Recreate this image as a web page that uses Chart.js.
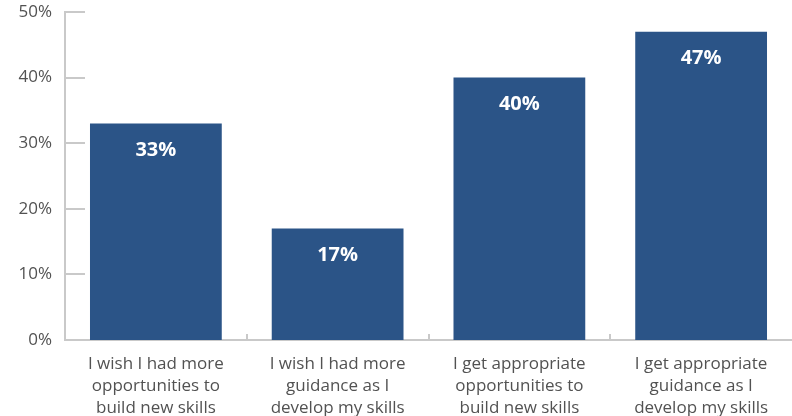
<!DOCTYPE html>
<html lang="en">
<head>
    <meta charset="UTF-8">
    <title>Skills Survey</title>
    <script src="https://cdn.jsdelivr.net/npm/chart.js"></script>
    <style>
        html, body { margin: 0; padding: 0; background: #fff; }
        .chart-box { position: relative; width: 792px; height: 416px; }
    </style>
</head>
<body>
    <div class="chart-box">
        <canvas id="skillsChart"></canvas>
    </div>

    <script>
        const categories = [
            ['I wish I had more', 'opportunities to', 'build new skills'],
            ['I wish I had more', 'guidance as I', 'develop my skills'],
            ['I get appropriate', 'opportunities to', 'build new skills'],
            ['I get appropriate', 'guidance as I', 'develop my skills']
        ];
        const responses = [33, 17, 40, 47];
        const yTicks = [0, 10, 20, 30, 40, 50];

        const barColor = '#2b5487';
        const axisColor = '#c9c9c9';
        const textColor = '#525252';
        const fontFamily = '"Open Sans", Lato, sans-serif';

        // white percentage labels just inside the top of each bar
        const valueLabels = {
            id: 'valueLabels',
            afterDatasetsDraw(chart) {
                const ctx = chart.ctx;
                const meta = chart.getDatasetMeta(0);
                ctx.save();
                ctx.fillStyle = '#ffffff';
                ctx.font = 'bold 20px ' + fontFamily;
                ctx.textAlign = 'center';
                ctx.textBaseline = 'middle';
                meta.data.forEach((bar, i) => {
                    ctx.fillText(responses[i] + '%', bar.x, bar.y + 27);
                });
                ctx.restore();
            }
        };

        // short tick marks pointing into the plot area
        const innerTicks = {
            id: 'innerTicks',
            afterDraw(chart) {
                const ctx = chart.ctx;
                const x = chart.scales.x;
                const y = chart.scales.y;
                const area = chart.chartArea;
                ctx.save();
                ctx.strokeStyle = axisColor;
                ctx.lineWidth = 2;
                ctx.beginPath();
                yTicks.forEach(v => {
                    if (v === 0) return;
                    const py = Math.round(y.getPixelForValue(v));
                    ctx.moveTo(area.left, py);
                    ctx.lineTo(area.left + 20, py);
                });
                for (let i = 1; i < categories.length; i++) {
                    const px = Math.round((x.getPixelForValue(i - 1) + x.getPixelForValue(i)) / 2);
                    ctx.moveTo(px, area.bottom);
                    ctx.lineTo(px, area.bottom - 6);
                }
                ctx.stroke();
                ctx.restore();
            }
        };

        new Chart(document.getElementById('skillsChart'), {
            type: 'bar',
            data: {
                labels: categories,
                datasets: [{
                    data: responses,
                    backgroundColor: barColor,
                    borderWidth: 0,
                    barPercentage: 0.725,
                    categoryPercentage: 1
                }]
            },
            options: {
                responsive: true,
                maintainAspectRatio: false,
                animation: false,
                layout: { padding: { top: 12, right: 0, left: 0, bottom: 0 } },
                plugins: {
                    legend: { display: false },
                    tooltip: { enabled: false }
                },
                scales: {
                    x: {
                        grid: { display: false, drawTicks: false },
                        border: { display: true, color: axisColor, width: 2 },
                        ticks: {
                            color: textColor,
                            padding: 13,
                            maxRotation: 0,
                            autoSkip: false,
                            font: { family: fontFamily, size: 17, lineHeight: 1.3 }
                        },
                        afterFit(scale) { scale.height = 76; }
                    },
                    y: {
                        min: 0,
                        max: 50,
                        afterBuildTicks(scale) {
                            scale.ticks = yTicks.map(v => ({ value: v }));
                        },
                        grid: { display: false, drawTicks: false },
                        border: { display: true, color: axisColor, width: 2 },
                        ticks: {
                            color: textColor,
                            padding: 13,
                            callback: v => v + '%',
                            font: { family: fontFamily, size: 17 }
                        },
                        afterFit(scale) {
                            scale.width = 65;
                            scale.paddingTop = 0;
                            scale.paddingBottom = 0;
                        }
                    }
                }
            },
            plugins: [valueLabels, innerTicks]
        });
    </script>
</body>
</html>
